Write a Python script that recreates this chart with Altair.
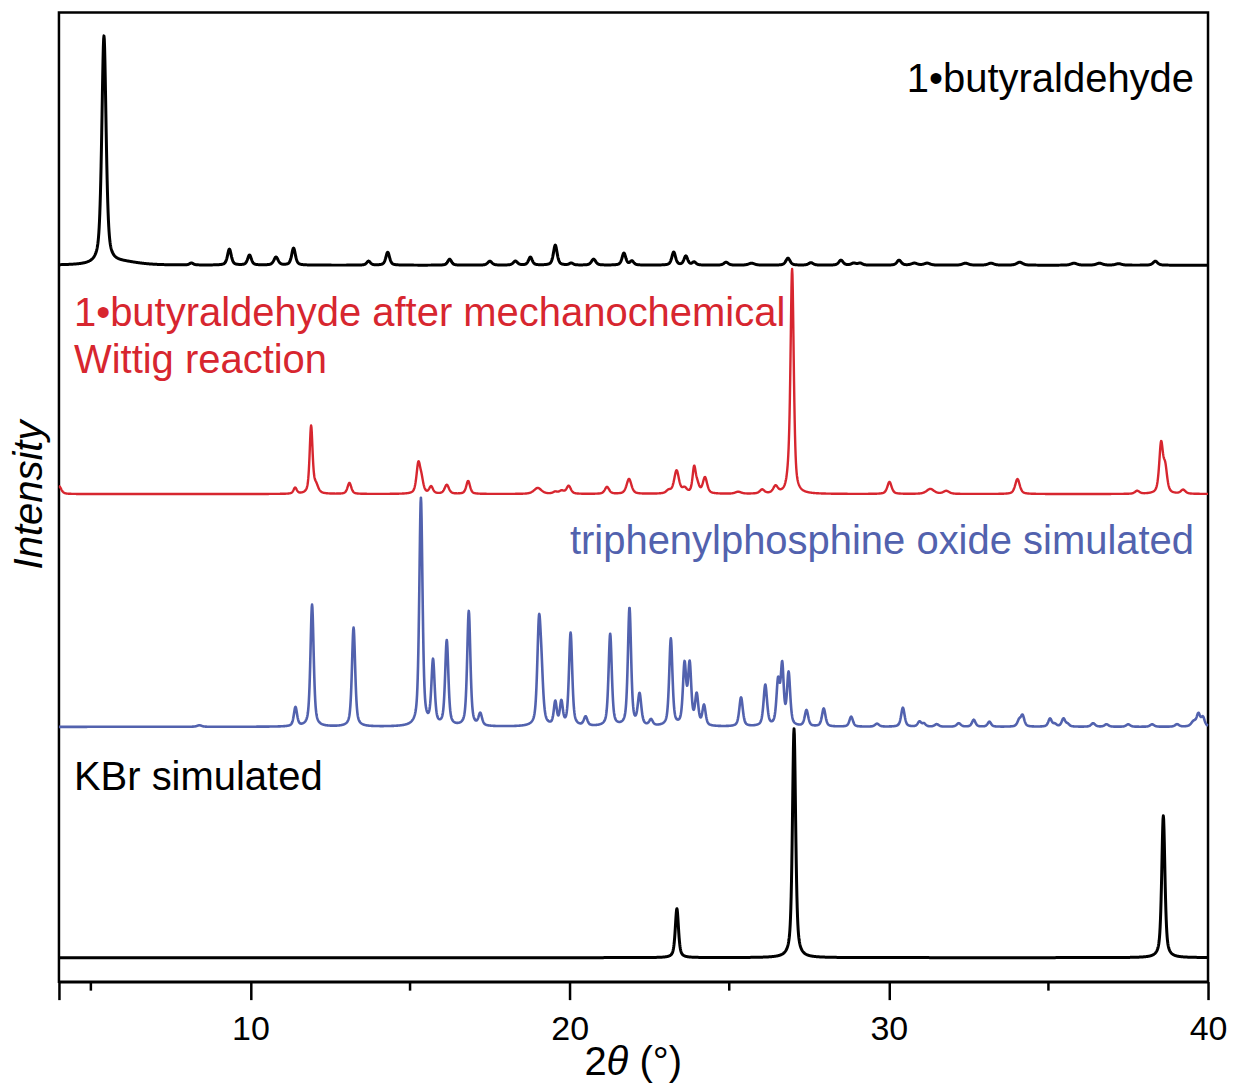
import numpy as np
import pandas as pd
import altair as alt

# ---------------- data ----------------
X_MIN, X_MAX = 4.0, 40.0
two_theta = np.round(np.arange(X_MIN, X_MAX + 0.0001, 0.01), 2)

# 1•butyraldehyde (black, top)
but_base = 717
but_pos = [5.41, 6.0, 8.15, 9.34, 9.97, 10.80, 11.35, 13.70, 14.30, 16.24, 17.50, 18.30,
           18.77, 19.55, 20.05, 20.75, 21.70, 21.95, 23.26, 23.64, 23.90, 24.90, 25.70,
           26.84, 27.56, 28.50, 28.90, 29.10, 30.32, 30.80, 31.20, 32.40, 33.20, 34.10,
           35.80, 36.60, 37.20, 38.35]
but_int = [228, 3, 2, 16, 10, 8, 17, 4, 13, 6, 4, 4,
           8, 20, 2, 6, 12, 4, 13, 9, 3, 3, 2,
           7, 2.5, 5, 2, 2, 5, 2, 2, 2, 2, 3,
           2, 2, 1.5, 4]
but_fwhm = [0.16, 1.2, 0.14, 0.14, 0.14, 0.16, 0.14, 0.14, 0.14, 0.14, 0.16, 0.16,
            0.14, 0.14, 0.14, 0.16, 0.14, 0.14, 0.14, 0.14, 0.14, 0.16, 0.22,
            0.16, 0.17, 0.16, 0.17, 0.17, 0.16, 0.22, 0.22, 0.22, 0.22, 0.22,
            0.22, 0.22, 0.22, 0.17]

# 1•butyraldehyde after mechanochemical Wittig reaction (red)
wit_base = 488
wit_pos = [4.0, 11.40, 11.90, 12.05, 13.10, 15.26, 15.36, 15.66, 16.15, 16.82, 19.00,
           19.55, 19.75, 19.97, 21.17, 21.86, 23.10, 23.35, 23.60, 23.90, 24.00, 24.24,
           25.28, 26.03, 26.45, 26.85, 26.97, 30.02, 31.30, 31.80, 34.03, 37.78, 38.53,
           38.66, 39.22]
wit_int = [8, 6, 67, 8, 11, 29, 12, 7, 9, 13, 6,
           2, 3, 8, 7, 15, 3, 23, 5, 25, 8, 16,
           2, 4, 7, 8, 224, 12, 5, 3, 15, 3, 49,
           24, 4]
wit_fwhm = [0.17, 0.12, 0.11, 0.17, 0.14, 0.14, 0.14, 0.14, 0.16, 0.14, 0.28,
            0.17, 0.17, 0.16, 0.16, 0.18, 0.17, 0.18, 0.17, 0.12, 0.14, 0.16,
            0.22, 0.17, 0.17, 0.12, 0.12, 0.16, 0.28, 0.22, 0.17, 0.17, 0.14,
            0.14, 0.17]

# triphenylphosphine oxide simulated (blue)
tpo_base = 255
tpo_pos = [8.40, 11.41, 11.93, 13.23, 15.34, 15.72, 16.15, 16.84, 17.20, 19.04, 19.12,
           19.55, 19.74, 20.03, 20.50, 21.27, 21.875, 22.19, 22.55, 23.17, 23.60, 23.76,
           23.98, 24.21, 25.37, 26.13, 26.53, 26.66, 26.86, 27.42, 27.96, 28.82, 29.63,
           30.44, 30.96, 31.10, 31.50, 32.19, 32.66, 33.15, 34.08, 34.19, 35.05, 35.20,
           35.47, 35.60, 36.40, 36.82, 37.50, 38.25, 39.03, 39.55, 39.70, 39.84]
tpo_int = [1.5, 19, 122, 99, 228, 64, 85, 115, 12, 97, 38,
           23, 23, 93, 9, 92, 118, 31, 6, 87, 60, 60,
           30, 20, 29, 41, 43, 58, 52, 16, 18, 10, 3,
           19, 5, 3, 2.5, 3.5, 7, 5, 6, 11, 8, 2.5,
           8, 2.5, 3.5, 2.5, 2.5, 2.5, 2.5, 5, 12, 9]
tpo_fwhm = [0.18, 0.12, 0.12, 0.12, 0.12, 0.12, 0.12, 0.12, 0.13, 0.13, 0.13,
            0.11, 0.11, 0.12, 0.13, 0.12, 0.12, 0.13, 0.13, 0.12, 0.12, 0.12,
            0.12, 0.12, 0.13, 0.13, 0.12, 0.11, 0.12, 0.13, 0.13, 0.13, 0.15,
            0.13, 0.13, 0.13, 0.15, 0.15, 0.13, 0.13, 0.13, 0.13, 0.13, 0.13,
            0.13, 0.13, 0.15, 0.15, 0.15, 0.15, 0.15, 0.18, 0.13, 0.13]

# KBr simulated (black, bottom)
kbr_base = 24
kbr_pos = [23.36, 27.03, 38.60]
kbr_int = [49, 229, 142]
kbr_fwhm = [0.12, 0.12, 0.12]

# axis ticks
major_ticks = [4, 10, 20, 30, 40]
minor_ticks = [5, 15, 25, 35]

RED = "#d7262f"
BLUE = "#5262ae"
FONT = "Liberation Sans"


def profile(pos, hgt, fwhm, eta, base):
    y = np.full(two_theta.shape, float(base))
    for p, h, w in zip(pos, hgt, fwhm):
        d = (two_theta - p) / w
        y += h * (eta / (1 + 4 * d * d) + (1 - eta) * np.exp(-4 * np.log(2) * d * d))
    return np.round(y, 2)


series = [
    ("1•butyraldehyde", profile(but_pos, but_int, but_fwhm, 0.55, but_base), "black", 3.0),
    ("after Wittig", profile(wit_pos, wit_int, wit_fwhm, 0.55, wit_base), RED, 2.4),
    ("Ph3PO simulated", profile(tpo_pos, tpo_int, tpo_fwhm, 0.55, tpo_base), BLUE, 2.6),
    ("KBr simulated", profile(kbr_pos, kbr_int, kbr_fwhm, 0.6, kbr_base), "black", 3.0),
]

W, H = 1150, 970
xscale = alt.Scale(domain=[X_MIN, X_MAX], nice=False, zero=False)
yscale = alt.Scale(domain=[0, H], nice=False, zero=False)

x_axis = alt.Axis(values=major_ticks, title="", grid=False,
                  labelExpr="datum.value == 4 ? '' : datum.label",
                  domainColor="black", domainWidth=2.5,
                  tickColor="black", tickWidth=2.5, tickSize=18,
                  labelFont=FONT, labelFontSize=34, labelColor="black",
                  labelPadding=13, labelFlush=False)

layers = []
for name, yv, col, sw in series:
    df = pd.DataFrame({"tt": two_theta, "I": yv})
    layers.append(
        alt.Chart(df).mark_line(color=col, strokeWidth=sw, strokeJoin="round").encode(
            x=alt.X("tt:Q", scale=xscale, axis=x_axis),
            y=alt.Y("I:Q", scale=yscale, axis=None)
        )
    )

minor = alt.Chart(pd.DataFrame({"tt": minor_ticks})).mark_rule(
    color="black", strokeWidth=2.5
).encode(x=alt.X("tt:Q", scale=xscale, axis=x_axis), y=alt.value(H), y2=alt.value(H + 9))
layers.append(minor)


def label(text, x, y, color="black", align="left", style="normal", angle=0, baseline="alphabetic", size=40):
    kw = dict(text=text, color=color, align=align, font=FONT, fontSize=size,
              fontStyle=style, baseline=baseline)
    if angle:
        kw["angle"] = angle
    return alt.Chart(pd.DataFrame({"k": [0]})).mark_text(**kw).encode(
        x=alt.value(x), y=alt.value(y))


layers += [
    label("1•butyraldehyde", 1136, 80, align="right"),
    label("1•butyraldehyde after mechanochemical", 15, 314, color=RED),
    label("Wittig reaction", 15, 361, color=RED),
    label("triphenylphosphine oxide simulated", 1136, 542, color=BLUE, align="right"),
    label("KBr simulated", 15, 778),
    label("Intensity", -29, 483, style="italic", angle=270, baseline="middle", align="center"),
    label("2", 526, 1063),
    label("θ", 548, 1063, style="italic"),
    label("(°)", 581, 1063),
]

chart = alt.layer(*layers).properties(
    width=W, height=H,
    autosize=alt.AutoSizeParams(type="none"),
    padding={"left": 59, "top": 12, "right": 25, "bottom": 101},
    background="white",
).configure_view(stroke="black", strokeWidth=2.5)

chart.save("out.html", embed_options={"renderer": "svg", "actions": False})
